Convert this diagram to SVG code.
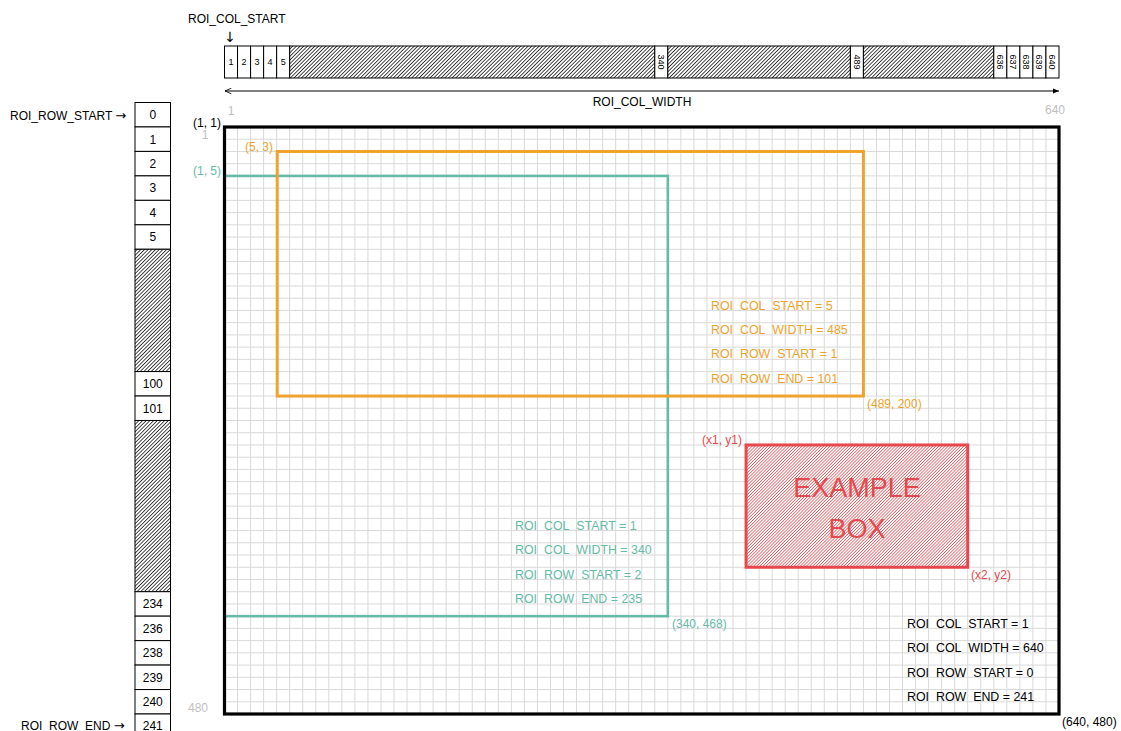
<svg xmlns="http://www.w3.org/2000/svg" width="1121" height="731" viewBox="0 0 1121 731">
<style>
text{font-family:"Liberation Sans",Arial,sans-serif;font-size:12px;fill:#000}
.g{fill:#BFBFBF}
.o{fill:#F0A22C}
.t{fill:#66BBA6}
.r{fill:#E5484D}
.sm{font-size:9px}
.c{text-anchor:middle}
.e{text-anchor:end}
.p{font-size:12.4px}
.u{fill-opacity:0}
.arr{font-family:"DejaVu Sans",sans-serif;font-size:13px}
.cell{fill:#fff;stroke:#000;stroke-width:1}
.hat{fill:url(#hatch);stroke:#000;stroke-width:1}
.grid{stroke:#D9D9D9;stroke-width:1;fill:none}
</style>
<defs>
<pattern id="hatch" width="2.6" height="2.6" patternUnits="userSpaceOnUse" patternTransform="rotate(45)">
<rect width="2.6" height="2.6" fill="#fff"/>
<line x1="0.4" y1="0" x2="0.4" y2="2.6" stroke="#000" stroke-width="0.75"/>
</pattern>
<pattern id="rhatch" width="2.2" height="2.2" patternUnits="userSpaceOnUse" patternTransform="rotate(45)">
<rect width="2.2" height="2.2" fill="#fff"/>
<line x1="0.4" y1="0" x2="0.4" y2="2.2" stroke="#E5484D" stroke-width="0.7"/>
</pattern>
<marker id="aend" viewBox="0 0 10 10" refX="10" refY="5" markerWidth="6" markerHeight="6" orient="auto">
<path d="M0,1 L10,5 L0,9 z" fill="#000"/>
</marker>
<marker id="astart" viewBox="0 0 10 10" refX="0" refY="5" markerWidth="7" markerHeight="7" orient="auto">
<path d="M9,1 L0,5 L9,9" fill="none" stroke="#000" stroke-width="1.2"/>
</marker>
</defs>
<rect width="1121" height="731" fill="#fff"/>

<g id="grid-vertical">
<path class="grid" d="M237.54 127V714M250.58 127V714M263.62 127V714M276.66 127V714M289.7 127V714M302.73 127V714M315.77 127V714M328.81 127V714M341.85 127V714M354.89 127V714M367.93 127V714M380.97 127V714M394.01 127V714M407.05 127V714M420.09 127V714M433.12 127V714M446.16 127V714M459.2 127V714M472.24 127V714M485.28 127V714M498.32 127V714M511.36 127V714M524.4 127V714M537.44 127V714M550.48 127V714M563.51 127V714M576.55 127V714M589.59 127V714M602.63 127V714M615.67 127V714M628.71 127V714M641.75 127V714M654.79 127V714M667.83 127V714M680.87 127V714M693.9 127V714M706.94 127V714M719.98 127V714M733.02 127V714M746.06 127V714M759.1 127V714M772.14 127V714M785.18 127V714M798.22 127V714M811.26 127V714M824.29 127V714M837.33 127V714M850.37 127V714M863.41 127V714M876.45 127V714M889.49 127V714M902.53 127V714M915.57 127V714M928.61 127V714M941.65 127V714M954.68 127V714M967.72 127V714M980.76 127V714M993.8 127V714M1006.84 127V714M1019.88 127V714M1032.92 127V714M1045.96 127V714"/>
</g>

<g id="grid-horizontal">
<path class="grid" d="M224.5 139.23H1059M224.5 151.46H1059M224.5 163.69H1059M224.5 175.92H1059M224.5 188.15H1059M224.5 200.37H1059M224.5 212.6H1059M224.5 224.83H1059M224.5 237.06H1059M224.5 249.29H1059M224.5 261.52H1059M224.5 273.75H1059M224.5 285.98H1059M224.5 298.21H1059M224.5 310.44H1059M224.5 322.67H1059M224.5 334.9H1059M224.5 347.12H1059M224.5 359.35H1059M224.5 371.58H1059M224.5 383.81H1059M224.5 396.04H1059M224.5 408.27H1059M224.5 420.5H1059M224.5 432.73H1059M224.5 444.96H1059M224.5 457.19H1059M224.5 469.42H1059M224.5 481.65H1059M224.5 493.87H1059M224.5 506.1H1059M224.5 518.33H1059M224.5 530.56H1059M224.5 542.79H1059M224.5 555.02H1059M224.5 567.25H1059M224.5 579.48H1059M224.5 591.71H1059M224.5 603.94H1059M224.5 616.17H1059M224.5 628.4H1059M224.5 640.62H1059M224.5 652.85H1059M224.5 665.08H1059M224.5 677.31H1059M224.5 689.54H1059M224.5 701.77H1059"/>
</g>

<g id="orange-params">
<text class="o p" x="711" y="309.5">ROI<tspan class="u">_</tspan>COL<tspan class="u">_</tspan>START = 5</text>
<text class="o p" x="711" y="333.9">ROI<tspan class="u">_</tspan>COL<tspan class="u">_</tspan>WIDTH = 485</text>
<text class="o p" x="711" y="358.4">ROI<tspan class="u">_</tspan>ROW<tspan class="u">_</tspan>START = 1</text>
<text class="o p" x="711" y="382.8">ROI<tspan class="u">_</tspan>ROW<tspan class="u">_</tspan>END = 101</text>
</g>
<g id="teal-params">
<text class="t p" x="515" y="529.6">ROI<tspan class="u">_</tspan>COL<tspan class="u">_</tspan>START = 1</text>
<text class="t p" x="515" y="554.1">ROI<tspan class="u">_</tspan>COL<tspan class="u">_</tspan>WIDTH = 340</text>
<text class="t p" x="515" y="578.5">ROI<tspan class="u">_</tspan>ROW<tspan class="u">_</tspan>START = 2</text>
<text class="t p" x="515" y="603">ROI<tspan class="u">_</tspan>ROW<tspan class="u">_</tspan>END = 235</text>
</g>
<g id="full-params">
<text class="p" x="907" y="628">ROI<tspan class="u">_</tspan>COL<tspan class="u">_</tspan>START = 1</text>
<text class="p" x="907" y="652.4">ROI<tspan class="u">_</tspan>COL<tspan class="u">_</tspan>WIDTH = 640</text>
<text class="p" x="907" y="676.9">ROI<tspan class="u">_</tspan>ROW<tspan class="u">_</tspan>START = 0</text>
<text class="p" x="907" y="701.1">ROI<tspan class="u">_</tspan>ROW<tspan class="u">_</tspan>END = 241</text>
</g>

<g id="roi-teal">
<rect x="224.5" y="175.92" width="443.33" height="440.25" fill="none" stroke="#66BBA6" stroke-width="2.6"/>
<text class="t" x="193" y="175">(1, 5)</text>
<text class="t" x="672" y="628">(340, 468)</text>
</g>

<g id="roi-orange">
<rect x="277.2" y="151.46" width="586.21" height="244.58" fill="none" stroke="#F0A22C" stroke-width="3"/>
<text class="o" x="245" y="151">(5, 3)</text>
<text class="o" x="867" y="408">(489, 200)</text>
</g>

<g id="example-box">
<rect x="746.06" y="444.96" width="221.66" height="122.29" fill="url(#rhatch)" stroke="#E5484D" stroke-width="3"/>
<text class="r c" x="857" y="497" style="font-size:27px">EXAMPLE</text>
<text class="r c" x="857" y="538" style="font-size:27px">BOX</text>
<text class="r" x="702" y="443.5">(x1, y1)</text>
<text class="r" x="971" y="578.5">(x2, y2)</text>
</g>

<g id="roi-full">
<rect x="224.5" y="127" width="834.5" height="587" fill="none" stroke="#000" stroke-width="3.2"/>
<text x="193" y="127">(1, 1)</text>
<text x="1062" y="726">(640, 480)</text>
<text class="g c" x="231" y="115">1</text>
<text class="g c" x="205" y="139">1</text>
<text class="g e" x="1065" y="114">640</text>
<text class="g e" x="208" y="712">480</text>
</g>

<g id="col-strip">
<rect class="cell" x="224.5" y="46" width="13.04" height="32"/>
<rect class="cell" x="237.54" y="46" width="13.04" height="32"/>
<rect class="cell" x="250.58" y="46" width="13.04" height="32"/>
<rect class="cell" x="263.62" y="46" width="13.04" height="32"/>
<rect class="cell" x="276.66" y="46" width="13.04" height="32"/>
<rect class="hat" x="289.7" y="46" width="365.09" height="32"/>
<rect class="cell" x="654.79" y="46" width="13.04" height="32"/>
<rect class="hat" x="667.83" y="46" width="182.54" height="32"/>
<rect class="cell" x="850.37" y="46" width="13.04" height="32"/>
<rect class="hat" x="863.41" y="46" width="130.39" height="32"/>
<rect class="cell" x="993.8" y="46" width="13.04" height="32"/>
<rect class="cell" x="1006.84" y="46" width="13.04" height="32"/>
<rect class="cell" x="1019.88" y="46" width="13.04" height="32"/>
<rect class="cell" x="1032.92" y="46" width="13.04" height="32"/>
<rect class="cell" x="1045.96" y="46" width="13.04" height="32"/>
<text class="sm c" x="231" y="65.2">1</text>
<text class="sm c" x="244.1" y="65.2">2</text>
<text class="sm c" x="257.1" y="65.2">3</text>
<text class="sm c" x="270.1" y="65.2">4</text>
<text class="sm c" x="283.2" y="65.2">5</text>
<text class="sm c" transform="translate(661.3 62) rotate(90)" y="3.2">340</text>
<text class="sm c" transform="translate(856.9 62) rotate(90)" y="3.2">489</text>
<text class="sm c" transform="translate(1000.3 62) rotate(90)" y="3.2">636</text>
<text class="sm c" transform="translate(1013.4 62) rotate(90)" y="3.2">637</text>
<text class="sm c" transform="translate(1026.4 62) rotate(90)" y="3.2">638</text>
<text class="sm c" transform="translate(1039.4 62) rotate(90)" y="3.2">639</text>
<text class="sm c" transform="translate(1052.5 62) rotate(90)" y="3.2">640</text>
<text x="188" y="23">ROI_COL_START</text>
<text class="c arr" x="230" y="42" style="font-size:14px">↓</text>
<text class="c" x="642" y="106">ROI_COL_WIDTH</text>
</g>

<g id="row-strip">
<rect class="cell" x="135" y="102.5" width="35.5" height="24.46"/>
<rect class="cell" x="135" y="126.96" width="35.5" height="24.46"/>
<rect class="cell" x="135" y="151.42" width="35.5" height="24.46"/>
<rect class="cell" x="135" y="175.88" width="35.5" height="24.46"/>
<rect class="cell" x="135" y="200.34" width="35.5" height="24.46"/>
<rect class="cell" x="135" y="224.8" width="35.5" height="24.46"/>
<rect class="hat" x="135" y="249.26" width="35.5" height="122.3"/>
<rect class="cell" x="135" y="371.56" width="35.5" height="24.46"/>
<rect class="cell" x="135" y="396.02" width="35.5" height="24.46"/>
<rect class="hat" x="135" y="420.48" width="35.5" height="171.22"/>
<rect class="cell" x="135" y="591.7" width="35.5" height="24.46"/>
<rect class="cell" x="135" y="616.16" width="35.5" height="24.46"/>
<rect class="cell" x="135" y="640.62" width="35.5" height="24.46"/>
<rect class="cell" x="135" y="665.08" width="35.5" height="24.46"/>
<rect class="cell" x="135" y="689.54" width="35.5" height="24.46"/>
<rect class="cell" x="135" y="714" width="35.5" height="24.46"/>
<text class="c" x="152.75" y="119">0</text>
<text class="c" x="152.75" y="143.5">1</text>
<text class="c" x="152.75" y="167.9">2</text>
<text class="c" x="152.75" y="192.4">3</text>
<text class="c" x="152.75" y="216.8">4</text>
<text class="c" x="152.75" y="241.3">5</text>
<text class="c" x="152.75" y="388.1">100</text>
<text class="c" x="152.75" y="412.5">101</text>
<text class="c" x="152.75" y="608.2">234</text>
<text class="c" x="152.75" y="632.7">236</text>
<text class="c" x="152.75" y="657.1">238</text>
<text class="c" x="152.75" y="681.6">239</text>
<text class="c" x="152.75" y="706">240</text>
<text class="c" x="152.75" y="730">241</text>
<text x="10" y="120">ROI_ROW_START <tspan class="arr">→</tspan></text>
<text x="21" y="729.5">ROI<tspan class="u">_</tspan>ROW<tspan class="u">_</tspan>END <tspan class="arr">→</tspan></text>
</g>

<g id="connectors">
<line x1="225" y1="91" x2="1059" y2="91" stroke="#000" stroke-width="1" marker-start="url(#astart)" marker-end="url(#aend)"/>
</g>
</svg>
